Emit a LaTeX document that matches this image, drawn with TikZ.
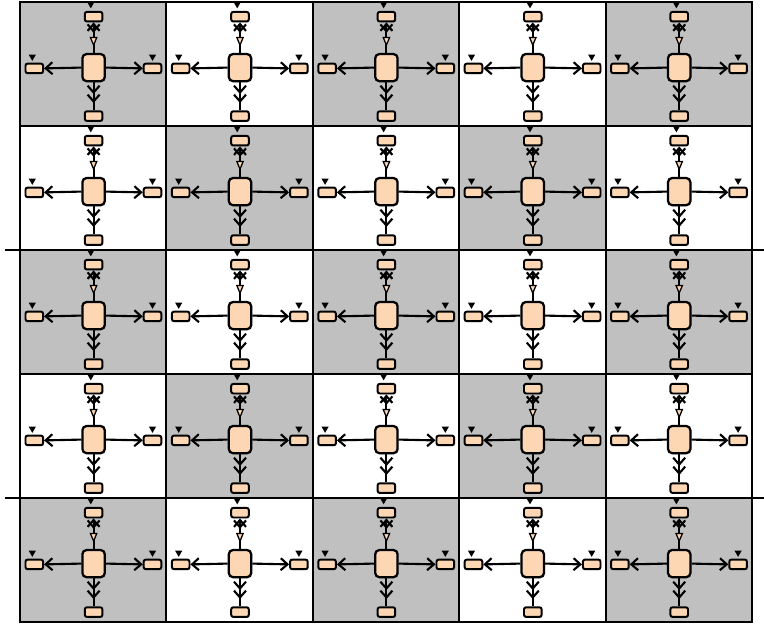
\documentclass[tikz,border=0pt]{standalone}
\usepackage{tikz}
\usetikzlibrary{positioning,arrows.meta,decorations.markings,shapes.geometric,shadows}
\definecolor{cellgray}{HTML}{C0C0C0}
\definecolor{peach}{HTML}{FDD6B4}
\tikzset{
  barb/.tip={Straight Barb[length=1.7mm,width=3.0mm]},
  opentri/.tip={Triangle[open,fill=peach,length=2.5mm,width=2.0mm,line width=0.9pt]},
  cellbox/.style={draw=black,line width=1.3pt},
  gridline/.style={draw=black,line width=1.3pt},
  hub/.style={draw,line width=1.6pt,rounded corners=3pt,fill=peach,
    minimum width=0.56cm,minimum height=0.68cm,inner sep=0pt,
    drop shadow={shadow xshift=0.7pt,shadow yshift=-0.9pt,opacity=0.3}},
  port/.style={draw,line width=1.4pt,rounded corners=1.5pt,fill=peach,
    minimum width=0.44cm,minimum height=0.24cm,inner sep=0pt,
    drop shadow={shadow xshift=0.6pt,shadow yshift=-0.7pt,opacity=0.3}},
  flag/.style={regular polygon,regular polygon sides=3,shape border rotate=180,
    fill=black,inner sep=0pt,minimum size=0.21cm},
  link/.style={line width=1.5pt},
  uplink/.style={link,-barb,postaction={decorate},
    decoration={markings,
      mark=at position 0.2 with {\arrowreversed{opentri}},
      mark=at position 0.66 with {\arrowreversed{barb}}}},
  downlink/.style={link,postaction={decorate},
    decoration={markings,
      mark=at position 0.42 with {\arrow{barb}},
      mark=at position 0.74 with {\arrow{barb}}}}
}

\begin{document}
\begin{tikzpicture}
  \useasboundingbox (0,0) rectangle (19.1,15.65);

  % Cells
  \foreach \row in {0,...,4}{
    \foreach \col in {0,...,4}{
      \pgfmathsetmacro\cx{0.5+3.66*\col}
      \pgfmathsetmacro\cy{15.6-3.1*\row}
      \pgfmathtruncatemacro\parity{mod(\row+\col,2)}
      \ifnum\parity=0 \def\shade{cellgray}\else\def\shade{white}\fi
      \fill[\shade] (\cx,\cy) rectangle ++(3.66,-3.1);
      \draw[cellbox] (\cx,\cy) rectangle ++(3.66,-3.1);
    }
  }

  % Long separators
  \draw[gridline] (0.125,9.4) -- (19.1,9.4);
  \draw[gridline] (0.125,3.2) -- (19.1,3.2);

  % Hubs with ports
  \foreach \row in {0,...,4}{
    \foreach \col in {0,...,4}{
      \pgfmathsetmacro\cx{0.5+3.66*\col+1.84}
      \pgfmathsetmacro\cy{15.6-3.1*\row-1.64}
      \node[hub] (h-\row-\col) at (\cx,\cy) {};
      \node[port,above=0.76cm of h-\row-\col] (t-\row-\col) {};
      \node[port,left=0.93cm of h-\row-\col,yshift=-0.02cm] (w-\row-\col) {};
      \node[port,right=0.92cm of h-\row-\col,yshift=-0.02cm] (e-\row-\col) {};
      \node[port,below=0.7cm of h-\row-\col] (s-\row-\col) {};
      \node[flag,above=0.05cm of t-\row-\col,xshift=-0.07cm] (tf-\row-\col) {};
      \node[flag,above=0.03cm of w-\row-\col,xshift=-0.05cm] (wf-\row-\col) {};
      \node[flag,above=0.03cm of e-\row-\col] (ef-\row-\col) {};
      \draw[uplink] (h-\row-\col.north) -- (t-\row-\col.south);
      \draw[link,-barb] (h-\row-\col.west) -- (w-\row-\col.east);
      \draw[link,-barb] (h-\row-\col.east) -- (e-\row-\col.west);
      \draw[downlink] (h-\row-\col.south) -- (s-\row-\col.north);
    }
  }
\end{tikzpicture}
\end{document}
